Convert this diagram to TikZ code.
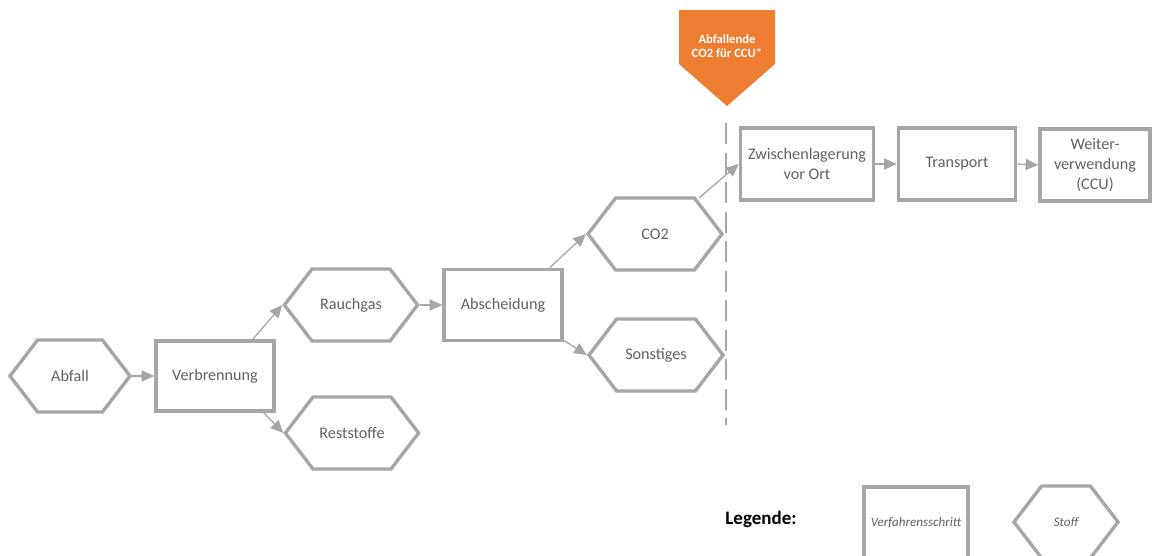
\documentclass[tikz,border=0pt]{standalone}
\usepackage{fontspec}
\setmainfont{Carlito}
\usepackage{tikz}
\usetikzlibrary{arrows.meta,shapes.symbols}
\definecolor{linecolore}{HTML}{A6A6A6}
\definecolor{textcolore}{HTML}{606060}
\definecolor{highlightcolore}{HTML}{ED7D31}
\colorlet{linecolor}{linecolore}
\colorlet{textcolor}{textcolore}
\colorlet{highlightcolor}{highlightcolore}
\tikzstyle{stepbox} = [
    draw=linecolor,
    line width=2.4pt,
    rectangle,
    text=textcolor,
    align=center,
    font=\fontsize{11.5}{14}\selectfont,
    minimum height=1.8cm
    ]
\tikzstyle{stoff} = [
    draw=linecolor,
    line width=2.4pt,
    signal,
    signal to=west and east,
    signal pointer angle=105,
    text=textcolor,
    align=center,
    font=\fontsize{11.5}{14}\selectfont,
    minimum height=1.8cm
    ]
\tikzstyle{flow} = [
    draw=linecolor,
    line width=0.9pt,
    -{Triangle[length=9pt,width=8pt]}
    ]
\tikzstyle{markertext} = [
    text=white,
    align=center,
    font=\bfseries\fontsize{9}{10.5}\selectfont
    ]

\begin{document}
\begin{tikzpicture}[x=0.025cm,y=-0.025cm]
\useasboundingbox (0,0) rectangle (1152,555);

\node [stoff, minimum width=3cm] (abfall) at (70,376) {Abfall};
\node [stepbox, minimum width=2.95cm, minimum height=1.75cm] (verbrennung) at (215,376) {Verbrennung};
\node [stoff, minimum width=3.33cm] (rauchgas) at (351,305) {Rauchgas};
\node [stoff, minimum width=3.33cm] (reststoffe) at (352,433) {Reststoffe};
\node [stepbox, minimum width=2.95cm, minimum height=1.78cm] (abscheidung) at (503,305) {Abscheidung};
\node [stoff, minimum width=3.35cm] (co2) at (655,234) {CO2};
\node [stoff, minimum width=3.35cm] (sonstiges) at (656,355) {Sonstiges};
\node [stepbox, minimum width=3.33cm] (zwischen) at (807,164) {Zwischenlagerung\\vor Ort};
\node [stepbox, minimum width=2.93cm] (transport) at (957,164) {Transport};
\node [stepbox, minimum width=2.75cm] (weiter) at (1095,165) {Weiter-\\verwendung\\(CCU)};

% CCU-Marker
\fill [highlightcolor] (679,10) -- (775,10) -- (775,64) -- (727,106) -- (679,64) -- cycle;
\node [markertext] (ccu) at (727,46) {Abfallende\\CO2 für CCU*};
\coordinate (septop) at (726,123);
\coordinate (sepbottom) at (726,425);
\draw [linecolor, line width=1pt, dash pattern=on 15pt off 6pt] (septop) -- (sepbottom);

\draw [flow] (abfall.east) -- (verbrennung.west);
\draw [flow] ([xshift=-0.575cm]verbrennung.north east) -- (rauchgas.west);
\draw [flow] ([xshift=-0.3cm]verbrennung.south east) -- (reststoffe.west);
\draw [flow] (rauchgas.east) -- (abscheidung.west);
\draw [flow] ([xshift=-0.35cm]abscheidung.north east) -- (co2.west);
\draw [flow] ([yshift=0.05cm]abscheidung.south east) -- (sonstiges.west);
\draw [flow] ([shift={(-0.63cm,0.9cm)}]co2.east) -- (zwischen.west);
\draw [flow] (zwischen.east) -- (transport.west);
\draw [flow] (transport.east) -- (weiter.west);

% Legende
\node [font=\bfseries\fontsize{13.5}{15}\selectfont] (legende) at (761,519) {Legende:};
\node [stepbox, minimum width=2.6cm, font=\itshape\fontsize{9.3}{11}\selectfont] (legstep) at (916,523) {Verfahrensschritt};
\node [stoff, minimum width=2.6cm, font=\itshape\fontsize{9.3}{11}\selectfont] (legstoff) at (1066,522) {Stoff};
\end{tikzpicture}
\end{document}
